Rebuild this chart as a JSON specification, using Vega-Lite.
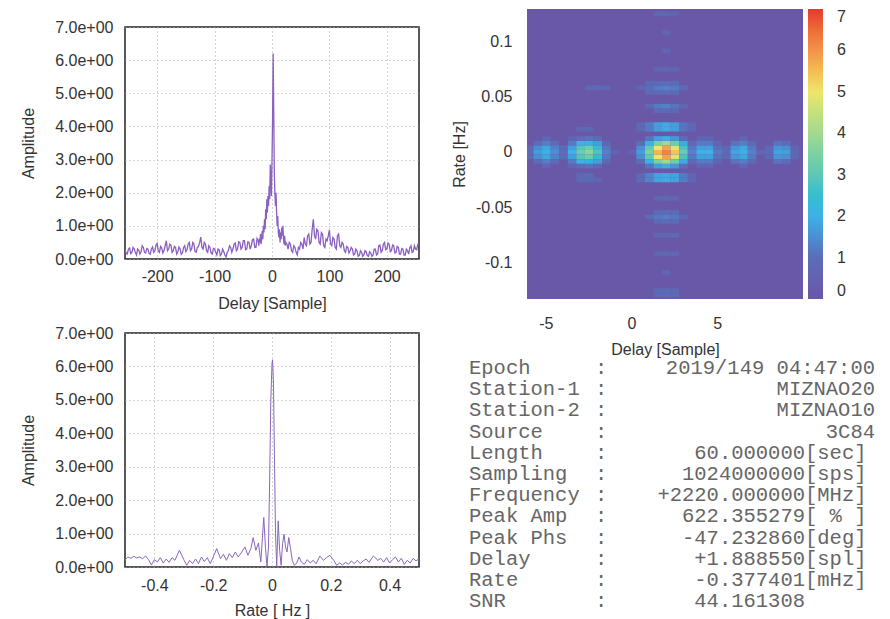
{
"$schema": "https://vega.github.io/schema/vega-lite/v6.json",
"background": "white",
"padding": {"left": 19, "top": 0, "right": 0, "bottom": 0},
"config": {
  "font": "Liberation Sans",
  "axis": {"labelFontSize": 16, "titleFontSize": 16, "labelColor": "#333", "titleColor": "#333", "titleFontWeight": "normal", "ticks": false, "domain": false, "gridColor": "#aaa", "gridDash": [1, 3], "gridWidth": 1, "gridOpacity": 1},
  "view": {"stroke": "#222", "strokeWidth": 1.5}
},
"datasets": {
  "delay": [
    {"d":-256,"a":0.28},{"d":-254,"a":0.18},{"d":-252,"a":0.15},{"d":-250,"a":0.3},{"d":-248,"a":0.33},{"d":-246,"a":0.16},{"d":-244,"a":0.2},{"d":-242,"a":0.35},{"d":-240,"a":0.3},{"d":-238,"a":0.2},{"d":-236,"a":0.12},{"d":-234,"a":0.3},{"d":-232,"a":0.27},{"d":-230,"a":0.15},{"d":-228,"a":0.22},{"d":-226,"a":0.4},{"d":-224,"a":0.35},{"d":-222,"a":0.2},{"d":-220,"a":0.18},{"d":-218,"a":0.32},{"d":-216,"a":0.3},{"d":-214,"a":0.16},{"d":-212,"a":0.14},{"d":-210,"a":0.3},{"d":-208,"a":0.36},{"d":-206,"a":0.2},{"d":-204,"a":0.25},{"d":-202,"a":0.42},{"d":-200,"a":0.47},{"d":-198,"a":0.25},{"d":-196,"a":0.2},{"d":-194,"a":0.38},{"d":-192,"a":0.33},{"d":-190,"a":0.18},{"d":-188,"a":0.26},{"d":-186,"a":0.4},{"d":-184,"a":0.55},{"d":-182,"a":0.25},{"d":-180,"a":0.3},{"d":-178,"a":0.45},{"d":-176,"a":0.42},{"d":-174,"a":0.2},{"d":-172,"a":0.25},{"d":-170,"a":0.38},{"d":-168,"a":0.35},{"d":-166,"a":0.15},{"d":-164,"a":0.22},{"d":-162,"a":0.36},{"d":-160,"a":0.3},{"d":-158,"a":0.14},{"d":-156,"a":0.18},{"d":-154,"a":0.35},{"d":-152,"a":0.4},{"d":-150,"a":0.22},{"d":-148,"a":0.28},{"d":-146,"a":0.45},{"d":-144,"a":0.5},{"d":-142,"a":0.25},{"d":-140,"a":0.3},{"d":-138,"a":0.5},{"d":-136,"a":0.45},{"d":-134,"a":0.22},{"d":-132,"a":0.2},{"d":-130,"a":0.35},{"d":-128,"a":0.38},{"d":-126,"a":0.5},{"d":-124,"a":0.66},{"d":-122,"a":0.35},{"d":-120,"a":0.3},{"d":-118,"a":0.5},{"d":-116,"a":0.45},{"d":-114,"a":0.25},{"d":-112,"a":0.2},{"d":-110,"a":0.4},{"d":-108,"a":0.35},{"d":-106,"a":0.18},{"d":-104,"a":0.15},{"d":-102,"a":0.32},{"d":-100,"a":0.3},{"d":-98,"a":0.2},{"d":-96,"a":0.12},{"d":-94,"a":0.3},{"d":-92,"a":0.28},{"d":-90,"a":0.1},{"d":-88,"a":0.15},{"d":-86,"a":0.3},{"d":-84,"a":0.22},{"d":-82,"a":0.12},{"d":-80,"a":0.06},{"d":-78,"a":0.2},{"d":-76,"a":0.25},{"d":-74,"a":0.4},{"d":-72,"a":0.35},{"d":-70,"a":0.2},{"d":-68,"a":0.3},{"d":-66,"a":0.45},{"d":-64,"a":0.48},{"d":-62,"a":0.25},{"d":-60,"a":0.3},{"d":-58,"a":0.52},{"d":-56,"a":0.5},{"d":-54,"a":0.3},{"d":-52,"a":0.35},{"d":-50,"a":0.55},{"d":-48,"a":0.55},{"d":-46,"a":0.28},{"d":-44,"a":0.3},{"d":-42,"a":0.52},{"d":-40,"a":0.5},{"d":-38,"a":0.3},{"d":-36,"a":0.4},{"d":-34,"a":0.58},{"d":-32,"a":0.6},{"d":-30,"a":0.35},{"d":-28,"a":0.35},{"d":-26,"a":0.62},{"d":-24,"a":0.55},
    {"d":-23,"a":0.4},{"d":-22,"a":0.62},{"d":-21,"a":0.5},{"d":-20,"a":0.75},{"d":-19,"a":0.45},{"d":-18,"a":0.6},{"d":-17,"a":0.85},{"d":-16,"a":0.6},{"d":-15,"a":1.0},{"d":-14,"a":0.8},{"d":-13,"a":1.2},{"d":-12,"a":0.9},{"d":-11,"a":1.5},{"d":-10,"a":1.2},{"d":-9,"a":1.8},{"d":-8,"a":1.4},{"d":-7,"a":1.9},{"d":-6,"a":1.6},{"d":-5,"a":2.2},{"d":-4,"a":1.8},{"d":-3,"a":2.85},{"d":-2,"a":2.3},{"d":-1,"a":1.9},{"d":0,"a":3.0},{"d":1,"a":4.2},{"d":2,"a":6.2},{"d":3,"a":4.5},{"d":4,"a":2.6},{"d":5,"a":2.0},{"d":6,"a":1.6},{"d":7,"a":2.0},{"d":8,"a":1.4},{"d":9,"a":1.0},{"d":10,"a":1.3},{"d":11,"a":0.8},{"d":12,"a":0.65},{"d":13,"a":0.9},{"d":14,"a":0.5},{"d":15,"a":0.8},{"d":16,"a":0.6},{"d":17,"a":0.95},{"d":18,"a":0.7},{"d":19,"a":1.0},{"d":20,"a":0.6},{"d":21,"a":0.45},{"d":22,"a":0.7},{"d":23,"a":0.4},{"d":24,"a":0.5},
    {"d":26,"a":0.45},{"d":28,"a":0.3},{"d":30,"a":0.5},{"d":32,"a":0.45},{"d":34,"a":0.25},{"d":36,"a":0.2},{"d":38,"a":0.4},{"d":40,"a":0.35},{"d":42,"a":0.2},{"d":44,"a":0.12},{"d":46,"a":0.35},{"d":48,"a":0.3},{"d":50,"a":0.5},{"d":52,"a":0.45},{"d":54,"a":0.3},{"d":56,"a":0.65},{"d":58,"a":0.45},{"d":60,"a":0.4},{"d":62,"a":0.7},{"d":64,"a":0.75},{"d":66,"a":0.45},{"d":68,"a":0.5},{"d":70,"a":0.9},{"d":72,"a":1.2},{"d":74,"a":0.7},{"d":76,"a":0.6},{"d":78,"a":0.9},{"d":80,"a":0.85},{"d":82,"a":0.5},{"d":84,"a":0.45},{"d":86,"a":0.8},{"d":88,"a":0.75},{"d":90,"a":0.4},{"d":92,"a":0.35},{"d":94,"a":0.6},{"d":96,"a":0.55},{"d":98,"a":0.7},{"d":100,"a":0.88},{"d":102,"a":0.45},{"d":104,"a":0.4},{"d":106,"a":0.65},{"d":108,"a":0.6},{"d":110,"a":0.35},{"d":112,"a":0.3},{"d":114,"a":0.7},{"d":116,"a":0.75},{"d":118,"a":0.4},{"d":120,"a":0.35},{"d":122,"a":0.5},{"d":124,"a":0.45},{"d":126,"a":0.25},{"d":128,"a":0.2},{"d":130,"a":0.38},{"d":132,"a":0.35},{"d":134,"a":0.18},{"d":136,"a":0.25},{"d":138,"a":0.35},{"d":140,"a":0.3},{"d":142,"a":0.12},{"d":144,"a":0.15},{"d":146,"a":0.3},{"d":148,"a":0.25},{"d":150,"a":0.08},{"d":152,"a":0.1},{"d":154,"a":0.25},{"d":156,"a":0.2},{"d":158,"a":0.08},{"d":160,"a":0.12},{"d":162,"a":0.25},{"d":164,"a":0.22},{"d":166,"a":0.1},{"d":168,"a":0.08},{"d":170,"a":0.22},{"d":172,"a":0.18},{"d":174,"a":0.08},{"d":176,"a":0.12},{"d":178,"a":0.3},{"d":180,"a":0.3},{"d":182,"a":0.12},{"d":184,"a":0.15},{"d":186,"a":0.4},{"d":188,"a":0.42},{"d":190,"a":0.2},{"d":192,"a":0.25},{"d":194,"a":0.45},{"d":196,"a":0.5},{"d":198,"a":0.28},{"d":200,"a":0.3},{"d":202,"a":0.48},{"d":204,"a":0.45},{"d":206,"a":0.22},{"d":208,"a":0.25},{"d":210,"a":0.42},{"d":212,"a":0.4},{"d":214,"a":0.18},{"d":216,"a":0.2},{"d":218,"a":0.38},{"d":220,"a":0.35},{"d":222,"a":0.15},{"d":224,"a":0.15},{"d":226,"a":0.32},{"d":228,"a":0.3},{"d":230,"a":0.12},{"d":232,"a":0.12},{"d":234,"a":0.3},{"d":236,"a":0.25},{"d":238,"a":0.15},{"d":240,"a":0.35},{"d":242,"a":0.4},{"d":244,"a":0.2},{"d":246,"a":0.22},{"d":248,"a":0.4},{"d":250,"a":0.3},{"d":252,"a":0.28},{"d":254,"a":0.45},{"d":256,"a":0.45}
  ],
  "rate": [
    {"r":-0.5,"a":0.22},{"r":-0.49,"a":0.3},{"r":-0.48,"a":0.26},{"r":-0.47,"a":0.32},{"r":-0.46,"a":0.27},{"r":-0.45,"a":0.3},{"r":-0.44,"a":0.25},{"r":-0.43,"a":0.33},{"r":-0.42,"a":0.22},{"r":-0.41,"a":0.06},{"r":-0.4,"a":0.22},{"r":-0.39,"a":0.15},{"r":-0.38,"a":0.28},{"r":-0.37,"a":0.12},{"r":-0.36,"a":0.24},{"r":-0.35,"a":0.14},{"r":-0.34,"a":0.28},{"r":-0.33,"a":0.2},{"r":-0.315,"a":0.5},{"r":-0.3,"a":0.22},{"r":-0.29,"a":0.05},{"r":-0.28,"a":0.2},{"r":-0.27,"a":0.1},{"r":-0.26,"a":0.24},{"r":-0.25,"a":0.1},{"r":-0.24,"a":0.3},{"r":-0.23,"a":0.16},{"r":-0.22,"a":0.28},{"r":-0.21,"a":0.1},{"r":-0.2,"a":0.3},{"r":-0.188,"a":0.55},{"r":-0.175,"a":0.25},{"r":-0.165,"a":0.38},{"r":-0.155,"a":0.2},{"r":-0.145,"a":0.4},{"r":-0.135,"a":0.28},{"r":-0.125,"a":0.45},{"r":-0.115,"a":0.3},{"r":-0.105,"a":0.42},{"r":-0.092,"a":0.6},{"r":-0.082,"a":0.35},{"r":-0.072,"a":0.55},{"r":-0.064,"a":0.88},{"r":-0.055,"a":0.5},{"r":-0.046,"a":0.72},{"r":-0.038,"a":0.15},{"r":-0.028,"a":1.48},{"r":-0.022,"a":0.55},{"r":-0.017,"a":0.02},{"r":-0.012,"a":0.6},{"r":-0.008,"a":2.6},{"r":-0.004,"a":5.0},{"r":0.0,"a":6.1},{"r":0.002,"a":6.2},{"r":0.005,"a":5.5},{"r":0.008,"a":3.5},{"r":0.012,"a":1.0},{"r":0.016,"a":0.02},{"r":0.021,"a":1.38},{"r":0.026,"a":0.5},{"r":0.031,"a":0.05},{"r":0.036,"a":0.7},{"r":0.041,"a":0.98},{"r":0.046,"a":0.6},{"r":0.051,"a":0.45},{"r":0.057,"a":0.88},{"r":0.063,"a":0.55},{"r":0.069,"a":0.2},{"r":0.076,"a":0.05},{"r":0.084,"a":0.12},{"r":0.092,"a":0.3},{"r":0.1,"a":0.15},{"r":0.11,"a":0.08},{"r":0.12,"a":0.22},{"r":0.13,"a":0.12},{"r":0.14,"a":0.2},{"r":0.15,"a":0.1},{"r":0.163,"a":0.33},{"r":0.175,"a":0.2},{"r":0.185,"a":0.28},{"r":0.197,"a":0.35},{"r":0.21,"a":0.2},{"r":0.22,"a":0.05},{"r":0.23,"a":0.12},{"r":0.24,"a":0.06},{"r":0.25,"a":0.14},{"r":0.26,"a":0.08},{"r":0.27,"a":0.18},{"r":0.28,"a":0.1},{"r":0.29,"a":0.2},{"r":0.3,"a":0.1},{"r":0.31,"a":0.18},{"r":0.32,"a":0.24},{"r":0.33,"a":0.14},{"r":0.345,"a":0.33},{"r":0.36,"a":0.2},{"r":0.37,"a":0.26},{"r":0.38,"a":0.15},{"r":0.39,"a":0.28},{"r":0.4,"a":0.12},{"r":0.41,"a":0.22},{"r":0.42,"a":0.3},{"r":0.43,"a":0.15},{"r":0.44,"a":0.26},{"r":0.45,"a":0.08},{"r":0.46,"a":0.2},{"r":0.47,"a":0.12},{"r":0.48,"a":0.26},{"r":0.49,"a":0.18},{"r":0.5,"a":0.25}
  ],
  "heat": [
    {"d":-6.25,"r":-0.0020833,"a":0.9},{"d":-5.75,"r":-0.0020833,"a":1.7},{"d":-5.25,"r":-0.0020833,"a":2.1},{"d":-4.75,"r":-0.0020833,"a":1.5},{"d":-4.25,"r":-0.0020833,"a":1.0},{"d":-3.75,"r":-0.0020833,"a":2.0},{"d":-3.25,"r":-0.0020833,"a":3.3},{"d":-2.75,"r":-0.0020833,"a":3.7},{"d":-2.25,"r":-0.0020833,"a":2.8},{"d":-1.75,"r":-0.0020833,"a":1.3},{"d":-1.25,"r":-0.0020833,"a":0.6},{"d":-0.25,"r":-0.0020833,"a":0.6},{"d":0.25,"r":-0.0020833,"a":1.7},{"d":0.75,"r":-0.0020833,"a":3.5},{"d":1.25,"r":-0.0020833,"a":5.6},{"d":1.75,"r":-0.0020833,"a":6.2},{"d":2.25,"r":-0.0020833,"a":5.4},{"d":2.75,"r":-0.0020833,"a":3.2},{"d":3.25,"r":-0.0020833,"a":1.3},{"d":3.75,"r":-0.0020833,"a":2.0},{"d":4.25,"r":-0.0020833,"a":2.0},{"d":4.75,"r":-0.0020833,"a":1.2},{"d":5.25,"r":-0.0020833,"a":0.9},{"d":5.75,"r":-0.0020833,"a":1.8},{"d":6.25,"r":-0.0020833,"a":2.1},{"d":6.75,"r":-0.0020833,"a":1.3},{"d":7.25,"r":-0.0020833,"a":0.7},{"d":7.75,"r":-0.0020833,"a":0.9},{"d":8.25,"r":-0.0020833,"a":1.8},{"d":8.75,"r":-0.0020833,"a":1.7},{"d":9.25,"r":-0.0020833,"a":0.8},
    {"d":-6.25,"r":0.0020833,"a":0.8},{"d":-5.75,"r":0.0020833,"a":1.5},{"d":-5.25,"r":0.0020833,"a":1.85},{"d":-4.75,"r":0.0020833,"a":1.3},{"d":-4.25,"r":0.0020833,"a":0.9},{"d":-3.75,"r":0.0020833,"a":1.75},{"d":-3.25,"r":0.0020833,"a":2.9},{"d":-2.75,"r":0.0020833,"a":3.25},{"d":-2.25,"r":0.0020833,"a":2.45},{"d":-1.75,"r":0.0020833,"a":1.15},{"d":0.25,"r":0.0020833,"a":1.5},{"d":0.75,"r":0.0020833,"a":3.1},{"d":1.25,"r":0.0020833,"a":5.0},{"d":1.75,"r":0.0020833,"a":5.8},{"d":2.25,"r":0.0020833,"a":4.8},{"d":2.75,"r":0.0020833,"a":2.8},{"d":3.25,"r":0.0020833,"a":1.15},{"d":3.75,"r":0.0020833,"a":1.75},{"d":4.25,"r":0.0020833,"a":1.75},{"d":4.75,"r":0.0020833,"a":1.05},{"d":5.25,"r":0.0020833,"a":0.8},{"d":5.75,"r":0.0020833,"a":1.6},{"d":6.25,"r":0.0020833,"a":1.85},{"d":6.75,"r":0.0020833,"a":1.15},{"d":7.75,"r":0.0020833,"a":0.8},{"d":8.25,"r":0.0020833,"a":1.6},{"d":8.75,"r":0.0020833,"a":1.5},{"d":9.25,"r":0.0020833,"a":0.7},
    {"d":-6.25,"r":-0.00625,"a":0.8},{"d":-5.75,"r":-0.00625,"a":1.5},{"d":-5.25,"r":-0.00625,"a":1.85},{"d":-4.75,"r":-0.00625,"a":1.3},{"d":-4.25,"r":-0.00625,"a":0.9},{"d":-3.75,"r":-0.00625,"a":1.75},{"d":-3.25,"r":-0.00625,"a":2.9},{"d":-2.75,"r":-0.00625,"a":3.25},{"d":-2.25,"r":-0.00625,"a":2.45},{"d":-1.75,"r":-0.00625,"a":1.15},{"d":0.25,"r":-0.00625,"a":1.5},{"d":0.75,"r":-0.00625,"a":3.1},{"d":1.25,"r":-0.00625,"a":5.0},{"d":1.75,"r":-0.00625,"a":5.8},{"d":2.25,"r":-0.00625,"a":4.8},{"d":2.75,"r":-0.00625,"a":2.8},{"d":3.25,"r":-0.00625,"a":1.15},{"d":3.75,"r":-0.00625,"a":1.75},{"d":4.25,"r":-0.00625,"a":1.75},{"d":4.75,"r":-0.00625,"a":1.05},{"d":5.25,"r":-0.00625,"a":0.8},{"d":5.75,"r":-0.00625,"a":1.6},{"d":6.25,"r":-0.00625,"a":1.85},{"d":6.75,"r":-0.00625,"a":1.15},{"d":7.75,"r":-0.00625,"a":0.8},{"d":8.25,"r":-0.00625,"a":1.6},{"d":8.75,"r":-0.00625,"a":1.5},{"d":9.25,"r":-0.00625,"a":0.7},
    {"d":-5.75,"r":0.00625,"a":1.0},{"d":-5.25,"r":0.00625,"a":1.25},{"d":-4.75,"r":0.00625,"a":0.9},{"d":-3.75,"r":0.00625,"a":1.2},{"d":-3.25,"r":0.00625,"a":2.0},{"d":-2.75,"r":0.00625,"a":2.2},{"d":-2.25,"r":0.00625,"a":1.7},{"d":-1.75,"r":0.00625,"a":0.8},{"d":0.25,"r":0.00625,"a":1.0},{"d":0.75,"r":0.00625,"a":2.1},{"d":1.25,"r":0.00625,"a":3.5},{"d":1.75,"r":0.00625,"a":4.0},{"d":2.25,"r":0.00625,"a":3.3},{"d":2.75,"r":0.00625,"a":1.9},{"d":3.25,"r":0.00625,"a":0.8},{"d":3.75,"r":0.00625,"a":1.2},{"d":4.25,"r":0.00625,"a":1.2},{"d":4.75,"r":0.00625,"a":0.7},{"d":5.75,"r":0.00625,"a":1.1},{"d":6.25,"r":0.00625,"a":1.25},{"d":6.75,"r":0.00625,"a":0.8},{"d":8.25,"r":0.00625,"a":1.1},{"d":8.75,"r":0.00625,"a":1.0},
    {"d":-5.75,"r":-0.0104167,"a":1.0},{"d":-5.25,"r":-0.0104167,"a":1.25},{"d":-4.75,"r":-0.0104167,"a":0.9},{"d":-3.75,"r":-0.0104167,"a":1.2},{"d":-3.25,"r":-0.0104167,"a":2.0},{"d":-2.75,"r":-0.0104167,"a":2.2},{"d":-2.25,"r":-0.0104167,"a":1.7},{"d":-1.75,"r":-0.0104167,"a":0.8},{"d":0.25,"r":-0.0104167,"a":1.0},{"d":0.75,"r":-0.0104167,"a":2.1},{"d":1.25,"r":-0.0104167,"a":3.5},{"d":1.75,"r":-0.0104167,"a":4.0},{"d":2.25,"r":-0.0104167,"a":3.3},{"d":2.75,"r":-0.0104167,"a":1.9},{"d":3.25,"r":-0.0104167,"a":0.8},{"d":3.75,"r":-0.0104167,"a":1.2},{"d":4.25,"r":-0.0104167,"a":1.2},{"d":4.75,"r":-0.0104167,"a":0.7},{"d":5.75,"r":-0.0104167,"a":1.1},{"d":6.25,"r":-0.0104167,"a":1.25},{"d":6.75,"r":-0.0104167,"a":0.8},{"d":8.25,"r":-0.0104167,"a":1.1},{"d":8.75,"r":-0.0104167,"a":1.0},
    {"d":-5.25,"r":0.0104167,"a":0.65},{"d":-3.75,"r":0.0104167,"a":0.6},{"d":-3.25,"r":0.0104167,"a":1.0},{"d":-2.75,"r":0.0104167,"a":1.1},{"d":-2.25,"r":0.0104167,"a":0.85},{"d":0.75,"r":0.0104167,"a":1.1},{"d":1.25,"r":0.0104167,"a":1.7},{"d":1.75,"r":0.0104167,"a":1.95},{"d":2.25,"r":0.0104167,"a":1.6},{"d":2.75,"r":0.0104167,"a":0.95},{"d":3.75,"r":0.0104167,"a":0.6},{"d":4.25,"r":0.0104167,"a":0.6},{"d":6.25,"r":0.0104167,"a":0.65},
    {"d":-5.25,"r":-0.0145833,"a":0.65},{"d":-3.75,"r":-0.0145833,"a":0.6},{"d":-3.25,"r":-0.0145833,"a":1.0},{"d":-2.75,"r":-0.0145833,"a":1.1},{"d":-2.25,"r":-0.0145833,"a":0.85},{"d":0.75,"r":-0.0145833,"a":1.1},{"d":1.25,"r":-0.0145833,"a":1.7},{"d":1.75,"r":-0.0145833,"a":1.95},{"d":2.25,"r":-0.0145833,"a":1.6},{"d":2.75,"r":-0.0145833,"a":0.95},{"d":3.75,"r":-0.0145833,"a":0.6},{"d":4.25,"r":-0.0145833,"a":0.6},{"d":6.25,"r":-0.0145833,"a":0.65},
    {"d":0.25,"r":0.01875,"a":0.8},{"d":0.75,"r":0.01875,"a":1.2},{"d":1.25,"r":0.01875,"a":1.7},{"d":1.75,"r":0.01875,"a":1.9},{"d":2.25,"r":0.01875,"a":1.7},{"d":2.75,"r":0.01875,"a":1.1},{"d":3.25,"r":0.01875,"a":0.7},{"d":-3.25,"r":0.01875,"a":0.7},{"d":-2.75,"r":0.01875,"a":0.75},
    {"d":0.25,"r":0.0229167,"a":0.8},{"d":0.75,"r":0.0229167,"a":1.2},{"d":1.25,"r":0.0229167,"a":1.7},{"d":1.75,"r":0.0229167,"a":1.9},{"d":2.25,"r":0.0229167,"a":1.7},{"d":2.75,"r":0.0229167,"a":1.1},{"d":3.25,"r":0.0229167,"a":0.7},
    {"d":0.25,"r":-0.0229167,"a":0.85},{"d":0.75,"r":-0.0229167,"a":1.3},{"d":1.25,"r":-0.0229167,"a":1.8},{"d":1.75,"r":-0.0229167,"a":1.9},{"d":2.25,"r":-0.0229167,"a":1.8},{"d":2.75,"r":-0.0229167,"a":1.2},{"d":3.25,"r":-0.0229167,"a":0.7},{"d":-3.25,"r":-0.0229167,"a":0.8},{"d":-2.75,"r":-0.0229167,"a":0.85},
    {"d":0.25,"r":-0.0270833,"a":0.85},{"d":0.75,"r":-0.0270833,"a":1.3},{"d":1.25,"r":-0.0270833,"a":1.8},{"d":1.75,"r":-0.0270833,"a":1.9},{"d":2.25,"r":-0.0270833,"a":1.8},{"d":2.75,"r":-0.0270833,"a":1.2},{"d":3.25,"r":-0.0270833,"a":0.7},{"d":-3.25,"r":-0.0270833,"a":0.9},{"d":-2.75,"r":-0.0270833,"a":0.9},{"d":-2.25,"r":-0.0270833,"a":0.7},
    {"d":1.25,"r":0.0354167,"a":0.85},{"d":1.75,"r":0.0354167,"a":0.9},{"d":2.25,"r":0.0354167,"a":0.8},
    {"d":0.75,"r":0.0395833,"a":0.8},{"d":1.25,"r":0.0395833,"a":1.2},{"d":1.75,"r":0.0395833,"a":1.3},{"d":2.25,"r":0.0395833,"a":1.1},{"d":2.75,"r":0.0395833,"a":0.7},
    {"d":1.25,"r":-0.04375,"a":0.7},{"d":1.75,"r":-0.04375,"a":0.75},{"d":2.25,"r":-0.04375,"a":0.7},
    {"d":0.75,"r":0.0520833,"a":0.75},{"d":1.25,"r":0.0520833,"a":0.9},{"d":1.75,"r":0.0520833,"a":1.0},{"d":2.25,"r":0.0520833,"a":0.9},
    {"d":0.25,"r":0.05625,"a":0.7},{"d":0.75,"r":0.05625,"a":1.0},{"d":1.25,"r":0.05625,"a":1.2},{"d":1.75,"r":0.05625,"a":1.3},{"d":2.25,"r":0.05625,"a":1.2},{"d":2.75,"r":0.05625,"a":0.9},{"d":-2.75,"r":0.05625,"a":0.8},{"d":-2.25,"r":0.05625,"a":0.9},{"d":-1.75,"r":0.05625,"a":0.7},
    {"d":0.75,"r":0.0604167,"a":0.75},{"d":1.25,"r":0.0604167,"a":0.9},{"d":1.75,"r":0.0604167,"a":1.0},{"d":2.25,"r":0.0604167,"a":0.9},
    {"d":1.25,"r":-0.05625,"a":0.85},{"d":1.75,"r":-0.05625,"a":0.95},{"d":2.25,"r":-0.05625,"a":0.85},
    {"d":0.75,"r":-0.0604167,"a":0.9},{"d":1.25,"r":-0.0604167,"a":1.15},{"d":1.75,"r":-0.0604167,"a":1.25},{"d":2.25,"r":-0.0604167,"a":1.15},{"d":2.75,"r":-0.0604167,"a":0.8},
    {"d":1.25,"r":-0.0645833,"a":0.85},{"d":1.75,"r":-0.0645833,"a":0.95},{"d":2.25,"r":-0.0645833,"a":0.85},
    {"d":1.25,"r":0.0729167,"a":0.7},{"d":1.75,"r":0.0729167,"a":0.75},{"d":2.25,"r":0.0729167,"a":0.7},
    {"d":1.25,"r":-0.0770833,"a":0.75},{"d":1.75,"r":-0.0770833,"a":0.8},{"d":2.25,"r":-0.0770833,"a":0.75},
    {"d":1.75,"r":0.0895833,"a":0.7},
    {"d":1.25,"r":-0.09375,"a":0.7},{"d":1.75,"r":-0.09375,"a":0.8},{"d":2.25,"r":-0.09375,"a":0.7},
    {"d":1.75,"r":0.10625,"a":0.65},
    {"d":1.75,"r":-0.1104167,"a":0.7},
    {"d":1.25,"r":0.1229167,"a":0.7},{"d":1.75,"r":0.1229167,"a":0.75},{"d":2.25,"r":0.1229167,"a":0.7},
    {"d":1.25,"r":-0.1270833,"a":0.8},{"d":1.75,"r":-0.1270833,"a":0.9},{"d":2.25,"r":-0.1270833,"a":0.8},
    {"d":1.25,"r":-0.13125,"a":0.75},{"d":1.75,"r":-0.13125,"a":0.85},{"d":2.25,"r":-0.13125,"a":0.75}
  ],
  "infoL": [
    {"line":0,"col":0,"t":"Epoch"},{"line":1,"col":0,"t":"Station-1"},{"line":2,"col":0,"t":"Station-2"},{"line":3,"col":0,"t":"Source"},{"line":4,"col":0,"t":"Length"},{"line":5,"col":0,"t":"Sampling"},{"line":6,"col":0,"t":"Frequency"},{"line":7,"col":0,"t":"Peak Amp"},{"line":8,"col":0,"t":"Peak Phs"},{"line":9,"col":0,"t":"Delay"},{"line":10,"col":0,"t":"Rate"},{"line":11,"col":0,"t":"SNR"},
    {"line":0,"col":9,"t":":"},{"line":1,"col":9,"t":":"},{"line":2,"col":9,"t":":"},{"line":3,"col":9,"t":":"},{"line":4,"col":9,"t":":"},{"line":5,"col":9,"t":":"},{"line":6,"col":9,"t":":"},{"line":7,"col":9,"t":":"},{"line":8,"col":9,"t":":"},{"line":9,"col":9,"t":":"},{"line":10,"col":9,"t":":"},{"line":11,"col":9,"t":":"},
    {"line":4,"col":24,"t":"[sec]"},{"line":5,"col":24,"t":"[sps]"},{"line":6,"col":24,"t":"[MHz]"},{"line":7,"col":24,"t":"[\u00a0%\u00a0]"},{"line":8,"col":24,"t":"[deg]"},{"line":9,"col":24,"t":"[spl]"},{"line":10,"col":24,"t":"[mHz]"}
  ],
  "infoR": [
    {"line":0,"col":29,"t":"2019/149 04:47:00"},{"line":1,"col":29,"t":"MIZNAO20"},{"line":2,"col":29,"t":"MIZNAO10"},{"line":3,"col":29,"t":"3C84"},
    {"line":4,"col":24,"t":"60.000000"},{"line":5,"col":24,"t":"1024000000"},{"line":6,"col":24,"t":"+2220.000000"},{"line":7,"col":24,"t":"622.355279"},{"line":8,"col":24,"t":"-47.232860"},{"line":9,"col":24,"t":"+1.888550"},{"line":10,"col":24,"t":"-0.377401"},{"line":11,"col":24,"t":"44.161308"}
  ]
},
"spacing": 31,
"align": "none",
"resolve": {"scale": {"color": "independent"}, "legend": {"color": "independent"}},
"hconcat": [
  {
    "spacing": 12,
    "vconcat": [
      {
        "width": 294, "height": 6,
        "data": {"values": []},
        "view": {"stroke": null},
        "mark": "point"
      },
      {
        "width": 294, "height": 232,
        "data": {"name": "delay"},
        "mark": {"type": "line", "color": "#8a60c0", "strokeWidth": 1.3, "clip": true},
        "encoding": {
          "x": {"field": "d", "type": "quantitative", "scale": {"domain": [-256, 256], "nice": false, "zero": false},
                "axis": {"values": [-200, -100, 0, 100, 200], "title": "Delay [Sample]", "labelExpr": "datum.value + ''", "labelPadding": 9, "titlePadding": 11}},
          "y": {"field": "a", "type": "quantitative", "scale": {"domain": [0, 7], "nice": false},
                "axis": {"values": [0, 1, 2, 3, 4, 5, 6, 7], "title": "Amplitude", "labelExpr": "format(datum.value, '.1f') + 'e+00'", "labelPadding": 12, "titlePadding": 18}}
        }
      },
      {
        "width": 294, "height": 234,
        "data": {"name": "rate"},
        "mark": {"type": "line", "color": "#8a66bb", "strokeWidth": 1, "clip": true},
        "encoding": {
          "x": {"field": "r", "type": "quantitative", "scale": {"domain": [-0.5, 0.5], "nice": false, "zero": false},
                "axis": {"values": [-0.4, -0.2, 0, 0.2, 0.4], "title": "Rate [ Hz ]", "labelExpr": "datum.value + ''", "labelPadding": 10, "titlePadding": 9}},
          "y": {"field": "a", "type": "quantitative", "scale": {"domain": [0, 7], "nice": false},
                "axis": {"values": [0, 1, 2, 3, 4, 5, 6, 7], "title": "Amplitude", "labelExpr": "format(datum.value, '.1f') + 'e+00'", "labelPadding": 12, "titlePadding": 18}}
        }
      }
    ]
  },
  {
    "spacing": 0,
    "resolve": {"scale": {"color": "independent"}, "legend": {"color": "independent"}},
    "vconcat": [
      {
        "width": 276, "height": 9,
        "data": {"values": []},
        "view": {"stroke": null},
        "mark": "point"
      },
      {
        "width": 276, "height": 290,
        "data": {"name": "heat"},
        "view": {"fill": "#6958a8", "stroke": null},
        "mark": {"type": "rect", "clip": true},
        "encoding": {
          "x": {"field": "d", "type": "quantitative", "bin": {"binned": true, "step": 0.5}, "scale": {"domain": [-6.1, 10], "nice": false, "zero": false},
                "axis": {"values": [-5, 0, 5], "grid": false, "title": "Delay [Sample]", "labelExpr": "datum.value + ''", "labelPadding": 16, "titlePadding": 10}},
          "y": {"field": "r", "type": "quantitative", "bin": {"binned": true, "step": 0.0041667}, "scale": {"domain": [-0.133, 0.129], "nice": false, "zero": false},
                "axis": {"values": [-0.1, -0.05, 0, 0.05, 0.1], "grid": false, "title": "Rate [Hz]", "labelExpr": "datum.value + ''", "labelPadding": 15, "titlePadding": 8}},
          "color": {"field": "a", "type": "quantitative",
                    "scale": {"domain": [0, 1, 2, 3, 4, 5, 6, 7], "range": ["#6b56a7", "#5b6db7", "#3eb1e6", "#5ec7b5", "#a2d98f", "#efe56b", "#f3934a", "#e5392e"]},
                    "legend": {"orient": "right", "title": null, "values": [0, 1, 2, 3, 4, 5, 6, 7], "labelOverlap": false, "labelBaseline": "middle", "gradientLength": 290, "gradientThickness": 15, "offset": 5, "labelOffset": 14, "labelFontSize": 16, "labelColor": "#333"}}
        }
      },
      {
        "width": 276, "height": 256,
        "view": {"stroke": null},
        "encoding": {
          "x": {"field": "col", "type": "quantitative", "scale": {"domain": [4.143, 23.857], "nice": false, "zero": false}, "axis": null},
          "y": {"field": "line", "type": "quantitative", "scale": {"domain": [-0.802, 11.274], "reverse": true, "nice": false, "zero": false}, "axis": null},
          "text": {"field": "t"}
        },
        "layer": [
          {"data": {"name": "infoL"}, "mark": {"type": "text", "align": "left", "baseline": "alphabetic", "font": "Liberation Mono", "fontSize": 20.5, "color": "#666"}},
          {"data": {"name": "infoR"}, "mark": {"type": "text", "align": "right", "baseline": "alphabetic", "font": "Liberation Mono", "fontSize": 20.5, "color": "#666"}}
        ]
      }
    ]
  }
]
}
